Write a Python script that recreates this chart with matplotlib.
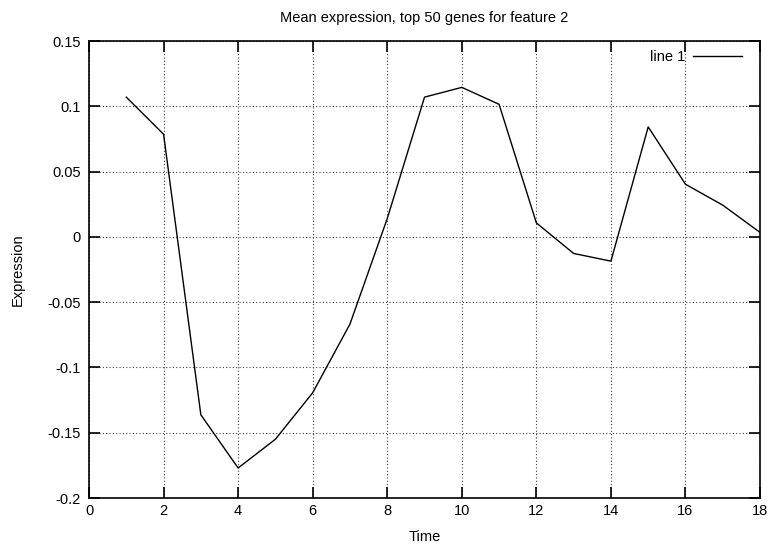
import matplotlib
matplotlib.use("Agg")
from matplotlib import pyplot as plt
import numpy as np

plt.rcParams['font.family'] = ['Liberation Sans', 'DejaVu Sans']

time = [1, 2, 3, 4, 5, 6, 7, 8, 9, 10, 11, 12, 13, 14, 15, 16, 17, 18]
expression = [0.107, 0.0786, -0.1363, -0.177, -0.155, -0.1194, -0.0668, 0.014,
              0.107, 0.1145, 0.1015, 0.0107, -0.0127, -0.0186, 0.0842, 0.0403,
              0.0243, 0.0034]
x_ticks = np.arange(0, 19, 2)
y_ticks = [-0.2, -0.15, -0.1, -0.05, 0, 0.05, 0.1, 0.15]
y_labels = ['-0.2', '-0.15', '-0.1', '-0.05', '0', '0.05', '0.1', '0.15']

fs = 10.5

fig = plt.figure(figsize=(7.72, 5.46), dpi=100)
ax = fig.add_axes([0.1153, 0.0879, 0.8692, 0.837])

ax.plot(time, expression, color='black', lw=1.0, label='line 1')

ax.set_xlim(0, 18)
ax.set_ylim(-0.2, 0.15)
ax.set_xticks(x_ticks)
ax.set_yticks(y_ticks)
ax.set_yticklabels(y_labels)
ax.tick_params(direction='in', length=8, width=1.2, top=True, right=True,
               labelsize=fs)
ax.tick_params(axis='x', pad=4)
ax.tick_params(axis='y', pad=6)
ax.grid(True, color='0.25', linestyle=(0, (1, 2)), lw=0.8)
for s in ax.spines.values():
    s.set_linewidth(1.2)

ax.set_title('Mean expression, top 50 genes for feature 2', fontsize=fs, pad=14)
ax.set_xlabel('Time', fontsize=fs, labelpad=9)
ax.set_ylabel('Expression', fontsize=fs, labelpad=16)

leg = ax.legend(loc='upper right', bbox_to_anchor=(0.982, 0.993),
                frameon=False, markerfirst=False, fontsize=fs,
                handlelength=3.36, handletextpad=0.55, borderaxespad=0)

fig.savefig('out.png', dpi=100)
